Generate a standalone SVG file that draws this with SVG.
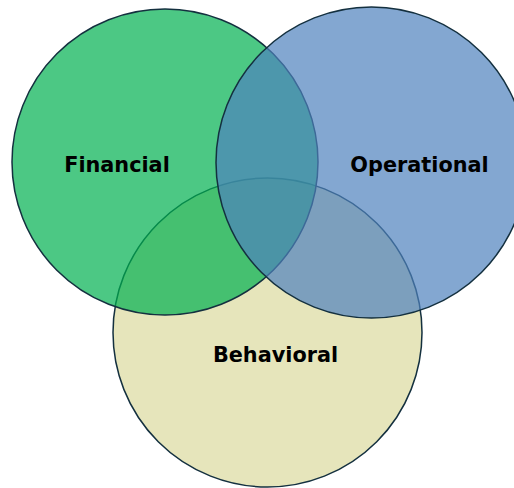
<svg xmlns="http://www.w3.org/2000/svg" width="514" height="488" viewBox="0 0 514 488">
<style>
.c{stroke:#14303f;stroke-width:1.5}
.t{font-family:"DejaVu Sans",Verdana,sans-serif;font-weight:bold;font-size:20.8px;fill:#000;text-anchor:middle}
</style>
<rect width="514" height="488" fill="#fff"/>
<g id="behavioral">
<circle class="c" cx="267.5" cy="332.5" r="154.5" fill="#e6e5bb"/>
</g>
<g id="financial">
<circle class="c" cx="165" cy="162" r="153" fill="#00b050" fill-opacity="0.7"/>
</g>
<g id="operational">
<circle class="c" cx="371.5" cy="162.5" r="155.5" fill="#4f81bd" fill-opacity="0.7"/>
</g>
<g id="labels">
<text class="t" x="117" y="172">Financial</text>
<text class="t" x="419.5" y="172">Operational</text>
<text class="t" x="275.5" y="362">Behavioral</text>
</g>
<g id="connectors"/>
</svg>
